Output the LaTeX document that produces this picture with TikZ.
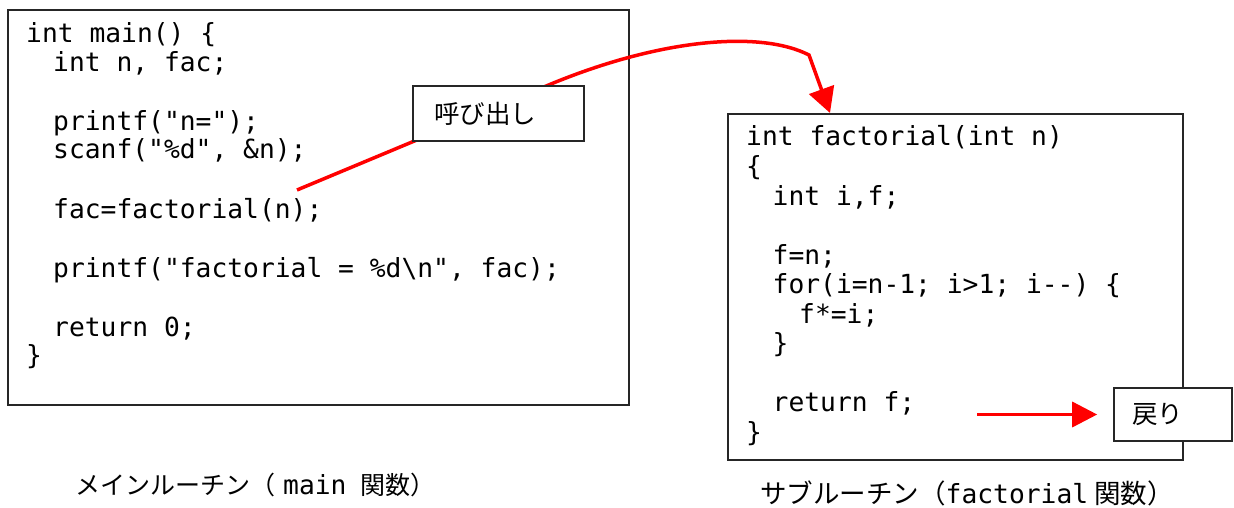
\documentclass[tikz,border=0pt]{standalone}
\usepackage{fontspec}
\setmonofont{DejaVu Sans Mono}
\newfontfamily\jpfont{Noto Sans CJK JP}
\usetikzlibrary{arrows.meta}
\newcommand\codefont{\ttfamily\fontsize{26.3}{30}\selectfont}
\tikzset{
  codebox/.style={draw=black!85, line width=1.8pt, fill=white, anchor=north west, inner sep=0pt},
  codeline/.style={anchor=base west, inner sep=0pt, font=\codefont},
  notebox/.style={draw=black!85, line width=1.6pt, fill=white, align=left,
    font=\jpfont\fontsize{25.5}{30}\selectfont},
  redline/.style={draw=red, line width=3.5pt},
  caption/.style={anchor=base west, inner sep=0pt, font=\jpfont\fontsize{25}{30}\selectfont},
}
\begin{document}
\begin{tikzpicture}[x=1pt, y=-1pt]
\useasboundingbox (0,0) rectangle (1234,508);
% boxes
\node[codebox, minimum width=621pt, minimum height=395pt] (mainbox) at (7,9) {};
\node[codebox, minimum width=455pt, minimum height=346pt] (fbox) at (727,113) {};
% main code
\node[codeline] (m1) at (26,43) {int main() \{};
\node[codeline] (m2) at (53,72) {int n, fac;};
\node[codeline] (m3) at (53,131) {printf("n=");};
\node[codeline] (m4) at (53,159) {scanf("\%d", \&n);};
\node[codeline] (m5) at (53,218) {fac=factorial(n);};
\node[codeline] (m6) at (53,277) {printf("factorial = \%d\textbackslash n", fac);};
\node[codeline] (m7) at (53,336) {return 0;};
\node[codeline] (m8) at (26,364) {\}};
% factorial code
\node[codeline] (f1) at (746,146) {int factorial(int n)};
\node[codeline] (f2) at (746,175.5) {\{};
\node[codeline] (f3) at (772.5,205) {int i,f;};
\node[codeline] (f4) at (772.5,264) {f=n;};
\node[codeline] (f5) at (772.5,293.5) {for(i=n-1; i>1; i--) \{};
\node[codeline] (f6) at (799,323) {f*=i;};
\node[codeline] (f7) at (772.5,352.5) {\}};
\node[codeline] (f8) at (772.5,411.5) {return f;};
\node[codeline] (f9) at (746,441) {\}};
% call connector
\coordinate (callfrom) at (297,190);
\coordinate (callbend) at (551,84);
\coordinate (callknee) at (809,55);
\coordinate (callto) at ([xshift=103pt]fbox.north west);
\draw[redline, -{Triangle[length=25pt,width=26pt]}]
  (callfrom) -- (callbend) .. controls (660,39) and (760,30) .. (callknee) -- (callto);
\node[notebox, minimum height=55pt, text width=129pt, inner xsep=21pt] (callbox) at (498.5,113.5) {呼び出し};
% return connector
\node[notebox, minimum height=53pt, text width=82pt, inner xsep=18pt] (retbox) at (1173,414.5) {戻り};
\coordinate (retfrom) at (977,414.5);
\draw[redline, -{Triangle[length=25pt,width=25pt]}, shorten >=16pt] (retfrom) -- (retbox.west);
% captions
\node[caption] (mainlabel) at (75,494.5) {メインルーチン（\hspace{8pt}{\codefont main}\hspace{14pt}関数）};
\node[caption, font=\jpfont\fontsize{26.5}{30}\selectfont] (sublabel) at (760,503) {サブルーチン（{\codefont factorial}\hspace{6pt}関数）};
\end{tikzpicture}
\end{document}
